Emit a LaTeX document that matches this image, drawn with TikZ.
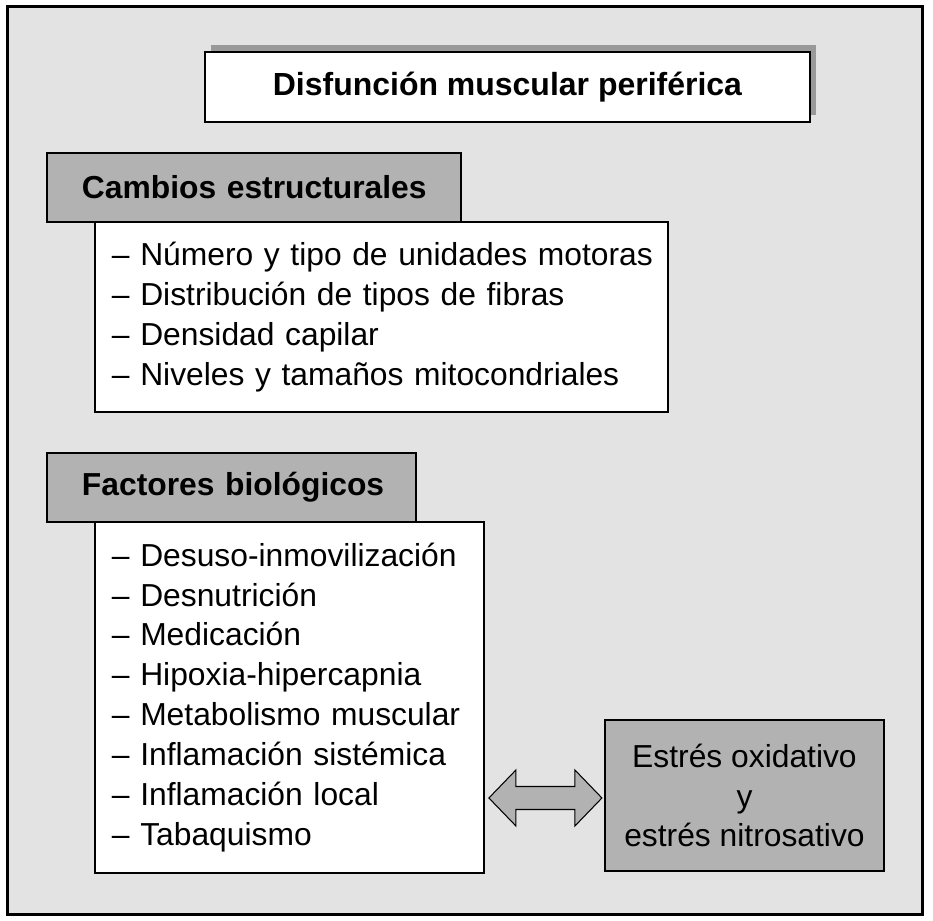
\documentclass[tikz,border=0pt]{standalone}
\usepackage{fontspec}
\setmainfont{Liberation Sans}
\usetikzlibrary{positioning, calc, shadows}

\begin{document}
\begin{tikzpicture}[x=0.02cm, y=-0.02cm, line width=1.4pt,
    every node/.style={inner sep=0pt, outer sep=0pt},
    titlebox/.style={draw, fill=white, minimum width=12.1cm, minimum height=1.4cm,
      font=\fontsize{18.2}{21}\selectfont\bfseries,
      drop shadow={fill=black!40, opacity=1, shadow xshift=0.12cm, shadow yshift=0.14cm}},
    headbox/.style={draw, fill=black!30, minimum height=1.38cm, align=left,
      font=\fontsize{18.1}{21}\selectfont\bfseries,
      execute at begin node={\leftskip=0.7cm}},
    listbox/.style={draw, fill=white, align=left,
      font=\fontsize{18.1}{22.7}\selectfont,
      execute at begin node={\leftskip=0.34cm}},
    stressbox/.style={draw, fill=black!30, minimum width=5.58cm, minimum height=3.02cm,
      align=center, font=\fontsize{18.1}{22.7}\selectfont},
    dblarrow/.style={draw, fill=black!30, line width=0.6pt, line join=miter}]
    \useasboundingbox (0,0) rectangle (933,920);
    % Frame
    \draw[line width=1.7pt, fill=black!11] (7.5,6.5) rectangle (922.5,914.5);

    % Title
    \node[titlebox, anchor=north west] (title) at (205,52) {Disfunción muscular periférica};

    % Structural changes
    \node[headbox, text width=8.28cm, anchor=north west] (cambios) at (47,153) {Cambios estructurales};
    \node[listbox, text width=11.46cm, minimum height=3.8cm, anchor=north west]
      (cambioslist) at ([xshift=0.96cm]cambios.south west)
      {– Número y tipo de unidades motoras\\
       – Distribución de tipos de fibras\\
       – Densidad capilar\\
       – Niveles y tamaños mitocondriales};

    % Biological factors
    \node[headbox, text width=7.38cm, anchor=north west] (factores)
      at ([yshift=-0.82cm]cambios.west |- cambioslist.south) {Factores biológicos};
    \node[listbox, text width=7.78cm, minimum height=7.02cm, anchor=north west]
      (factoreslist) at ([xshift=0.96cm]factores.south west)
      {– Desuso-inmovilización\\
       – Desnutrición\\
       – Medicación\\
       – Hipoxia-hipercapnia\\
       – Metabolismo muscular\\
       – Inflamación sistémica\\
       – Inflamación local\\
       – Tabaquismo};

    % Oxidative stress
    \node[stressbox, anchor=north west] (estres) at (605,720)
      {Estrés oxidativo\\ y\\ estrés nitrosativo};

    % Arrow
    \draw[dblarrow] ($(factoreslist.east |- estres.west)+(5,2.5)$) -- ++(27,-28) -- ++(0,16.5)
      -- ++(59,0) -- ++(0,-16.5) -- ++(27,28) -- ++(-27,28) -- ++(0,-16.5)
      -- ++(-59,0) -- ++(0,16.5) -- cycle;
\end{tikzpicture}
\end{document}
